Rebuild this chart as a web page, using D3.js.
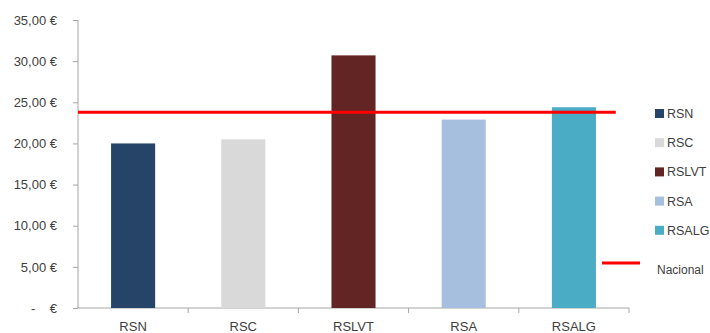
<!DOCTYPE html>
<html>
<head>
<meta charset="utf-8">
<script src="https://cdn.jsdelivr.net/npm/d3@7"></script>
<style>
  body { margin: 0; background: #fff; }
  text { font-family: "Liberation Sans", Arial, sans-serif; fill: #404040; white-space: pre; }
</style>
</head>
<body>
<div id="chart"></div>
<script>
// data
var regions = ["RSN", "RSC", "RSLVT", "RSA", "RSALG"];
var values = [20.0, 20.5, 30.7, 22.9, 24.4];
var colors = ["#264468", "#d9d9d9", "#632523", "#a7bfdf", "#4bacc6"];
var nacional = 23.8;
var yTicks = [0, 5, 10, 15, 20, 25, 30, 35];

var W = 710, H = 333;
var margin = {top: 20, right: 81, bottom: 25, left: 78},
    width = W - margin.left - margin.right,
    height = H - margin.top - margin.bottom;

var svg = d3.select("#chart").append("svg")
    .attr("width", W).attr("height", H)
  .append("g")
    .attr("transform", "translate(" + margin.left + "," + margin.top + ")");

var x = d3.scaleBand().domain(regions).range([0, width]).paddingInner(0.6).paddingOuter(0.3);
var y = d3.scaleLinear().domain([0, 35]).range([height, 0]);

var fmt = function(d) {
  if (d === 0) return "-    €";
  return d.toFixed(2).replace(".", ",") + " €";
};

// y axis
var yAxis = svg.append("g")
  .call(d3.axisLeft(y).tickValues(yTicks).tickSize(5).tickPadding(16).tickFormat(fmt));
yAxis.select(".domain").attr("stroke", "#a6a6a6").attr("d", "M0," + height + "V0");
yAxis.selectAll(".tick line").attr("stroke", "#a6a6a6");
yAxis.selectAll("text").style("font-size", "13px").attr("fill", "#404040")
  .attr("xml:space", "preserve");

// x axis with ticks at category boundaries
var step = x.step();
var bounds = regions.map(function(d, i) { return (i + 1) * step; });
svg.append("line").attr("x1", 0).attr("x2", width)
  .attr("y1", height).attr("y2", height).attr("stroke", "#a6a6a6");
svg.selectAll(".xtick").data(bounds).enter().append("line")
  .attr("x1", function(d) { return d; }).attr("x2", function(d) { return d; })
  .attr("y1", height).attr("y2", height + 5).attr("stroke", "#a6a6a6");
svg.selectAll(".xlabel").data(regions).enter().append("text")
  .attr("x", function(d) { return x(d) + x.bandwidth() / 2; })
  .attr("y", height + 23)
  .attr("text-anchor", "middle")
  .style("font-size", "13px")
  .text(function(d) { return d; });

// bars
svg.selectAll(".bar").data(regions).enter().append("rect")
  .attr("x", function(d) { return x(d); })
  .attr("width", x.bandwidth())
  .attr("y", function(d, i) { return y(values[i]); })
  .attr("height", function(d, i) { return height - y(values[i]); })
  .attr("fill", function(d, i) { return colors[i]; });

// national average line
svg.append("line")
  .attr("x1", 0)
  .attr("x2", x("RSALG") + x.bandwidth() / 2 + step * 0.38)
  .attr("y1", y(nacional)).attr("y2", y(nacional))
  .attr("stroke", "#ff0000").attr("stroke-width", 3);

// legend
var legend = svg.append("g").attr("transform", "translate(" + (width + 26) + ",0)");
regions.forEach(function(d, i) {
  var g = legend.append("g").attr("transform", "translate(0," + (93 + i * 29.2) + ")");
  g.append("rect").attr("x", 0).attr("y", -4).attr("width", 9).attr("height", 9).attr("fill", colors[i]);
  g.append("text").attr("x", 12).attr("y", 5).style("font-size", "12.5px")
    .attr("textLength", d.length > 4 ? null : null).text(d);
});
var nl = legend.append("g").attr("transform", "translate(0,243)");
nl.append("line").attr("x1", -53).attr("x2", -15).attr("y1", 0).attr("y2", 0)
  .attr("stroke", "#ff0000").attr("stroke-width", 3);
nl.append("text").attr("x", 2).attr("y", 11).style("font-size", "12px").text("Nacional");
</script>
</body>
</html>
